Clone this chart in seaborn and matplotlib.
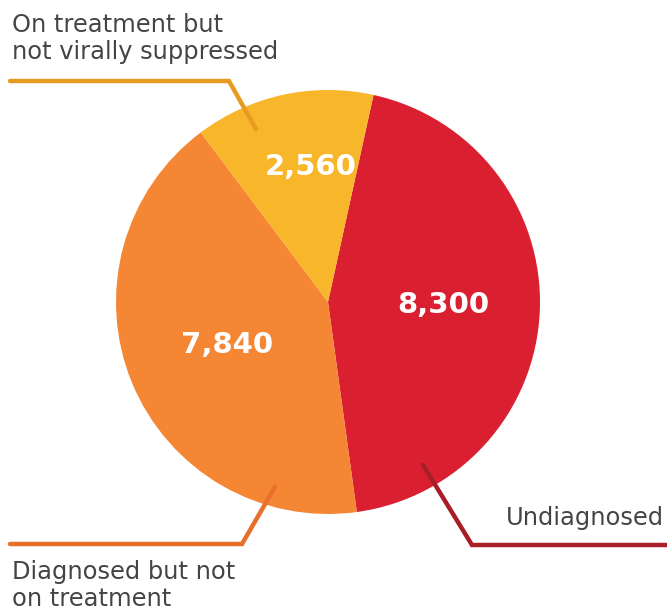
import matplotlib
matplotlib.use("Agg")
import matplotlib.pyplot as plt
import seaborn as sns

categories = ["Undiagnosed", "Diagnosed but not\non treatment", "On treatment but\nnot virally suppressed"]
values = [8300, 7840, 2560]
value_labels = ["8,300", "7,840", "2,560"]
wedge_colors = ["#DA2030", "#F58634", "#F8B62B"]
line_colors = ["#A81E27", "#E8702A", "#E89B22"]

sns.set_theme(style="white")
plt.rcParams['font.family'] = ['DejaVu Sans']

W, H = 667, 610
fig = plt.figure(figsize=(W / 100, H / 100), dpi=100)
ax = fig.add_axes([0, 0, 1, 1])

def py(y):
    return H - y

cx, cy, R = 328, 302, 212
start = 77.6
palette = sns.color_palette(wedge_colors)
wedges, _ = ax.pie(values, colors=palette, startangle=start, counterclock=False,
                   center=(cx, py(cy)), radius=R, wedgeprops=dict(linewidth=0))

# value labels (pixel positions of their centres)
label_pos = [(443, 305), (227, 345), (311, 167)]
for (x, y), t in zip(label_pos, value_labels):
    ax.text(x, py(y), t, color="white", fontsize=21, fontweight="bold",
            ha="center", va="center")

# leader lines
leaders = [
    [(423, 465), (472, 545), (667, 545)],
    [(275, 487), (242, 544), (10, 544)],
    [(256, 129), (229, 81), (10, 81)],
]
for pts, c in zip(leaders, line_colors):
    xs = [p[0] for p in pts]
    ys = [py(p[1]) for p in pts]
    ax.plot(xs, ys, color=c, lw=3.2, solid_capstyle="round", solid_joinstyle="miter")

txt_color = "#444444"
fs = 17.4
ax.text(664, py(525), categories[0], color=txt_color, fontsize=fs, ha="right", va="baseline")
ax.text(12, py(560), categories[1], color=txt_color, fontsize=fs, ha="left", va="top", linespacing=1.18)
ax.text(12, py(13), categories[2], color=txt_color, fontsize=fs, ha="left", va="top", linespacing=1.18)

ax.set_xlim(0, W)
ax.set_ylim(0, H)
ax.set_aspect("equal")
ax.axis("off")
fig.savefig("out.png", dpi=100)
